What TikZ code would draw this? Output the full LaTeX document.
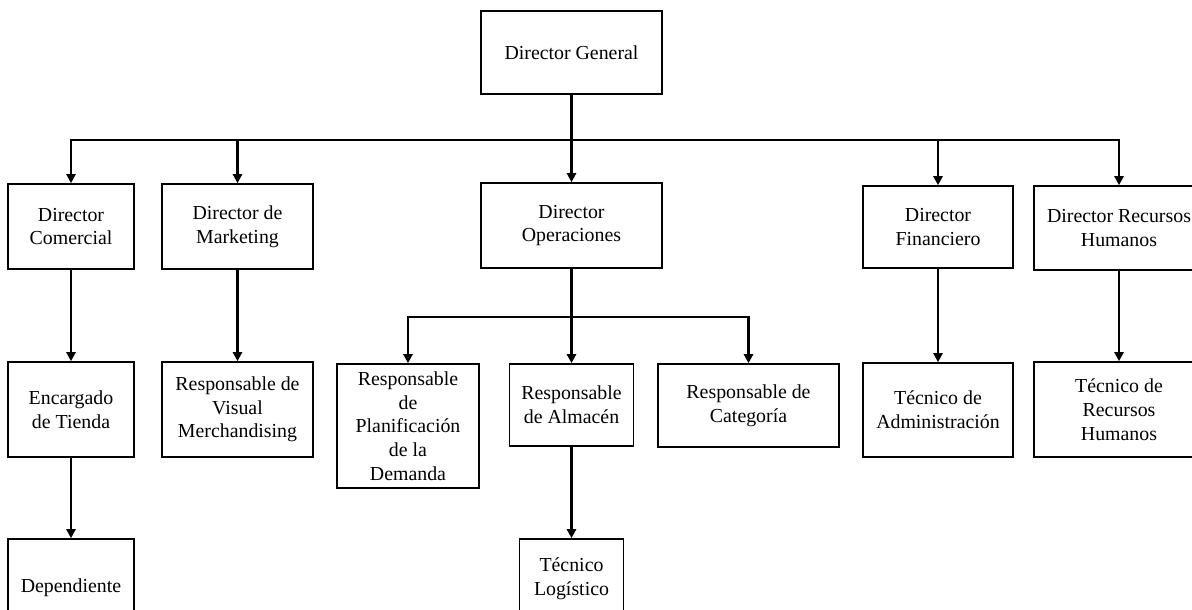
\documentclass[tikz,border=0pt]{standalone}
\usepackage{fontspec}
\setmainfont{Liberation Serif}
\usepackage{tikz}
\usetikzlibrary{positioning}
\usetikzlibrary{arrows.meta}

\tikzset{orgbox/.style={
		draw,
		line width=0.9pt,
		align=center,
		inner sep=0pt,
		font=\fontsize{11.3pt}{13.5pt}\selectfont
	}}
\tikzset{boxw/.style={minimum width=#1*0.02cm}}
\tikzset{boxh/.style={minimum height=#1*0.02cm}}
\tikzset{link/.style={line width=1.3pt}}
\tikzset{linkArrow/.style={link, -{Triangle[width=5.2pt,length=5.2pt]}}}

\begin{document}
\begin{tikzpicture}[x=0.02cm, y=-0.02cm]

\useasboundingbox (0,0) rectangle (1192,609);
\clip (0,0) rectangle (1192,609);

% --- top level

\node[
	orgbox,
	boxw=181, boxh=83
] (dirGeneral) at (571.5,52.5) {Director General};

% --- directors

\node[
	orgbox,
	boxw=126, boxh=85
] (dirComercial) at (71,226.5) {Director\\Comercial};

\node[
	orgbox,
	boxw=151, boxh=85
] (dirMarketing) at (237.5,226.5) {Director de\\Marketing};

\node[
	orgbox,
	boxw=181, boxh=85
] (dirOperaciones) at (571.5,225.5) {Director\\Operaciones};

\node[
	orgbox,
	boxw=150, boxh=82
] (dirFinanciero) at (938,227) {Director\\Financiero};

\node[
	orgbox,
	boxw=170, boxh=84
] (dirRRHH) at (1119,228) {Director Recursos\\Humanos};

% --- second level

\node[
	orgbox,
	boxw=126, boxh=95
] (encTienda) at (71,409.5) {Encargado\\de Tienda};

\node[
	orgbox,
	boxw=151, boxh=95
] (respVisual) at (237.5,409.5) {Responsable de\\Visual\\Merchandising};

\node[
	orgbox,
	boxw=142, boxh=124
] (respPlanif) at (408,426) {Responsable\\de\\Planificación\\de la\\Demanda};

\node[
	orgbox,
	boxw=124, boxh=82
] (respAlmacen) at (571.5,405) {Responsable\\de Almacén};

\node[
	orgbox,
	boxw=181, boxh=83
] (respCategoria) at (748.5,405.5) {Responsable de\\Categoría};

\node[
	orgbox,
	boxw=150, boxh=94
] (tecAdmin) at (938,410) {Técnico de\\Administración};

\node[
	orgbox,
	boxw=170, boxh=95
] (tecRRHH) at (1119,409.5) {Técnico de\\Recursos\\Humanos};

% --- third level

\node[
	orgbox,
	boxw=126, boxh=98
] (dependiente) at (71,588) {Dependiente};

\node[
	orgbox,
	boxw=104, boxh=80
] (tecLogistico) at (571.5,579) {Técnico\\Logístico};

% --- connectors

\coordinate (generalBar) at (571.5,140);
\coordinate (operBar) at (571.5,317);

\draw[link] (dirGeneral.south) -- (generalBar);
\foreach \dir in {dirComercial, dirMarketing, dirOperaciones, dirFinanciero, dirRRHH}
	\draw[linkArrow] (generalBar) -| (\dir.north);

\draw[link] (dirOperaciones.south) -- (operBar);
\foreach \resp in {respPlanif, respAlmacen, respCategoria}
	\draw[linkArrow] (operBar) -| (\resp.north);

\draw[linkArrow] (dirComercial.south) -- (encTienda.north);
\draw[linkArrow] (encTienda.south) -- (dependiente.north);
\draw[linkArrow] (dirMarketing.south) -- (respVisual.north);
\draw[linkArrow] (respAlmacen.south) -- (tecLogistico.north);
\draw[linkArrow] (dirFinanciero.south) -- (tecAdmin.north);
\draw[linkArrow] (dirRRHH.south) -- (tecRRHH.north);

\end{tikzpicture}
\end{document}
